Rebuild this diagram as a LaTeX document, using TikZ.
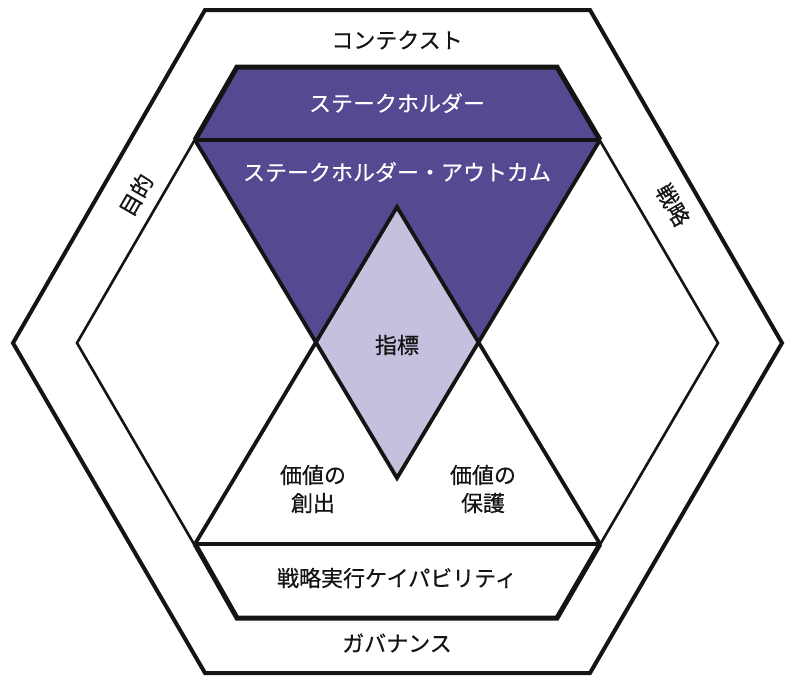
\documentclass[tikz,border=0pt]{standalone}
\usepackage{fontspec}
\setmainfont{Noto Sans CJK JP}
\newfontfamily\medfont[FakeBold=0.5]{Noto Sans CJK JP}
\definecolor{dpurple}{RGB}{83,74,146}
\definecolor{lpurple}{RGB}{197,192,222}
\definecolor{ink}{RGB}{20,20,20}
\tikzset{
  lbl/.style={font=\fontsize{22}{28}\selectfont\medfont, text=ink, inner sep=0pt, align=center},
  wlbl/.style={lbl, text=white},
  edge/.style={draw=ink, line join=miter}
}
\begin{document}
\begin{tikzpicture}[x=1pt,y=-1pt]
\useasboundingbox (0,0) rectangle (790,675);
% outer hexagon
\draw[edge, line width=4pt] (13,343) -- (205,10) -- (590,10) -- (782,343) -- (590,673) -- (205,673) -- cycle;
% inner hexagon
\draw[edge, line width=2.6pt] (77,343) -- (237,67) -- (557,67) -- (718,343) -- (557,618) -- (237,618) -- cycle;
% downward triangle
\fill[dpurple] (195,140) -- (600,140) -- (397,478) -- cycle;
% top trapezoid
\fill[dpurple] (237,67) -- (557,67) -- (600,140) -- (195,140) -- cycle;
% diamond
\fill[lpurple] (397,207) -- (477,342) -- (397,478) -- (316,342) -- cycle;
% triangle lines
\draw[edge, line width=3.8pt] (195,140) -- (397,478) -- (600,140);
\draw[edge, line width=3.8pt] (195,544) -- (397,207) -- (600,544);
\draw[edge, line width=3.4pt] (195,140) -- (600,140);
\draw[edge, line width=5pt] (195,140) -- (237,67) -- (557,67) -- (600,140);
% bottom trapezoid
\fill[white] (195,544) -- (600,544) -- (557,618) -- (237,618) -- cycle;
\draw[edge, line width=3.4pt] (195,544) -- (600,544);
\draw[edge, line width=5pt] (195,544) -- (237,618) -- (557,618) -- (600,544);
% labels
\node[lbl] (context) at (397,40) {コンテクスト};
\node[wlbl] (stake) at (397,103) {ステークホルダー};
\node[wlbl] (outcome) at (397,172) {ステークホルダー・アウトカム};
\node[lbl] (kpi) at (397,345) {指標};
\node[lbl] (create) at (313,489) {価値の\\創出};
\node[lbl] (protect) at (483,489) {価値の\\保護};
\node[lbl] (capab) at (397,578) {戦略実行ケイパビリティ};
\node[lbl] (gov) at (397,643) {ガバナンス};
\node[lbl, rotate=60] (purpose) at (136,195) {目的};
\node[lbl, rotate=-60] (strategy) at (673,205) {戦略};
\end{tikzpicture}
\end{document}
